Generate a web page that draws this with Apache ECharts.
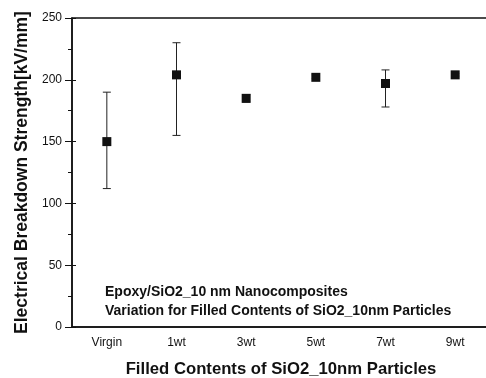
<!DOCTYPE html>
<html>
<head>
<meta charset="utf-8">
<style>
  html, body { margin: 0; padding: 0; background: #fff; }
  #chart { width: 486px; height: 378px; }
</style>
<script src="https://cdn.jsdelivr.net/npm/echarts@6/dist/echarts.min.js"></script>
</head>
<body>
<div id="chart"></div>
<script>
// values
const categories = ["Virgin", "1wt", "3wt", "5wt", "7wt", "9wt"]
const strength = [150, 204, 185, 202, 197, 204]
const errLow = [112, 155, 182, 201, 178, 203]
const errHigh = [190, 230, 188, 204, 208, 205]
const yTicks = [0, 50, 100, 150, 200, 250]

const chart = echarts.init(document.getElementById("chart"), null, { renderer: "canvas" })

const font = "Liberation Sans, Arial, sans-serif"
const ink = "#111"

const option = {
  animation: false,
  backgroundColor: "#fff",
  grid: {
    left: 72,
    width: 418, // right border falls off the canvas, like the cropped scan
    top: 18,
    height: 309,
    outerBoundsMode: "none",
    containLabel: false,
    show: true,
    borderColor: ink,
    borderWidth: 1.5
  },
  xAxis: {
    type: "category",
    data: categories,
    boundaryGap: true,
    name: "Filled Contents of SiO2_10nm Particles",
    nameLocation: "middle",
    nameGap: 34,
    nameTextStyle: { fontFamily: font, fontSize: 16.7, fontWeight: "bold", color: ink },
    axisLine: { lineStyle: { color: ink, width: 1.5 } },
    axisTick: { alignWithLabel: true, length: 4, lineStyle: { color: ink } },
    axisLabel: { fontFamily: font, fontSize: 12, color: ink, margin: 10 },
    splitLine: { show: false }
  },
  yAxis: [
    {
      type: "value",
      min: yTicks[0],
      max: yTicks[yTicks.length - 1],
      interval: 50,
      name: "Electrical Breakdown Strength[kV/mm]",
      nameLocation: "middle",
      nameGap: 41,
      nameRotate: 90,
      nameTextStyle: { fontFamily: font, fontSize: 17.5, fontWeight: "bold", color: ink },
      axisLine: { show: true, lineStyle: { color: ink, width: 1.5 } },
      axisTick: { show: true, length: 7, lineStyle: { color: ink } },
      minorTick: { show: true, splitNumber: 2, length: 4, lineStyle: { color: ink } },
      axisLabel: { fontFamily: font, fontSize: 12, color: ink, margin: 10 },
      splitLine: { show: false }
    },
    {
      // inner half of the crossing ticks
      type: "value",
      position: "left",
      min: yTicks[0],
      max: yTicks[yTicks.length - 1],
      interval: 50,
      axisLine: { show: false },
      axisTick: { show: true, inside: true, length: 4, lineStyle: { color: ink } },
      axisLabel: { show: false },
      splitLine: { show: false }
    }
  ],
  graphic: [
    {
      type: "text",
      left: 105,
      top: 283,
      style: {
        text: "Epoxy/SiO2_10 nm Nanocomposites\nVariation for Filled Contents of SiO2_10nm Particles",
        font: "bold 14px " + font,
        lineHeight: 19,
        fill: ink
      }
    }
  ],
  series: [
    {
      type: "custom",
      name: "error",
      z: 1,
      data: categories.map((c, i) => [i, errLow[i], errHigh[i]]),
      renderItem: (params, api) => {
        const lo = api.coord([api.value(0), api.value(1)])
        const hi = api.coord([api.value(0), api.value(2)])
        const cap = 4
        const style = { stroke: "#222", lineWidth: 1 }
        return {
          type: "group",
          children: [
            { type: "line", shape: { x1: lo[0], y1: lo[1], x2: hi[0], y2: hi[1] }, style },
            { type: "line", shape: { x1: lo[0] - cap, y1: lo[1], x2: lo[0] + cap, y2: lo[1] }, style },
            { type: "line", shape: { x1: hi[0] - cap, y1: hi[1], x2: hi[0] + cap, y2: hi[1] }, style }
          ]
        }
      }
    },
    {
      type: "scatter",
      name: "strength",
      z: 3,
      data: strength,
      symbol: "rect",
      symbolSize: 9,
      itemStyle: { color: ink, opacity: 1 }
    }
  ]
}

chart.setOption(option)
</script>
</body>
</html>
